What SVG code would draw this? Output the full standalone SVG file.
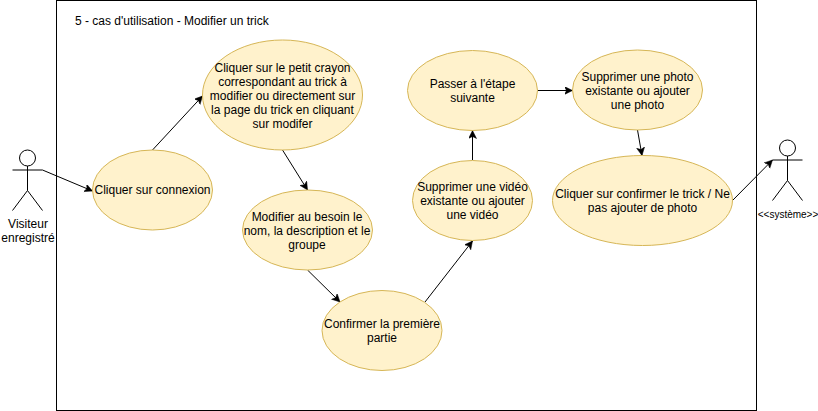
<svg xmlns="http://www.w3.org/2000/svg" width="818" height="411" viewBox="0 0 818 411">
<defs><marker id="a" markerWidth="10" markerHeight="10" refX="8" refY="4" orient="auto" markerUnits="userSpaceOnUse"><path d="M0 0L8 4L0 8L2 4Z" fill="#000" stroke="#000" stroke-width="0.500"/></marker></defs>
<style>
.n{fill:#fff2cc;stroke:#d6b656;stroke-width:1}
.t{font-family:"Liberation Sans",Arial,sans-serif;font-size:12px;fill:#000;text-anchor:middle}
.c{fill:none;stroke:#000;stroke-width:1;marker-end:url(#a)}
.s{fill:none;stroke:#000;stroke-width:1}
</style>
<rect width="818" height="411" fill="#fff"/>
<g id="frame"><rect x="56.500" y="0.500" width="700" height="410" fill="#fff" stroke="#000"/><text class="t" x="75" y="24.500" style="text-anchor:start">5 - cas d'utilisation - Modifier un trick</text></g>
<g id="connectors">
<path class="c" d="M42.500 170L92.500 191"/>
<path class="c" d="M152.500 150L202.500 96"/>
<path class="c" d="M282.500 150L307.500 190"/>
<path class="c" d="M307.500 270L340 302"/>
<path class="c" d="M425 302L472.500 241"/>
<path class="c" d="M472.500 160V130.500"/>
<path class="c" d="M537.500 90.500H572.500"/>
<path class="c" d="M637.500 130L642 155.500"/>
<path class="c" d="M732.500 200.500L772.500 160"/>
</g>
<g id="actor1"><circle class="s" cx="27.500" cy="158" r="8"/><path class="s" d="M27.500 166V190.500M12.500 170H42.500M27.500 190.500L12.500 210.500M27.500 190.500L42.500 210.500"/><text class="t" x="28" y="228">Visiteur</text><text class="t" x="28" y="242">enregistré</text></g>
<g id="actor2"><circle class="s" cx="787.500" cy="148" r="8"/><path class="s" d="M787.500 156V180.500M772.500 160H802.500M787.500 180.500L772.500 200.500M787.500 180.500L802.500 200.500"/><text class="t" x="788" y="218" style="font-size:10px">&lt;&lt;système&gt;&gt;</text></g>
<g id="n1"><ellipse class="n" cx="152.500" cy="190" rx="60" ry="40"/><text class="t" x="152.500" y="194">Cliquer sur connexion</text></g>
<g id="n2"><ellipse class="n" cx="282.500" cy="95" rx="80" ry="55"/><text class="t" x="282.500" y="72">Cliquer sur le petit crayon</text><text class="t" x="282.500" y="86">correspondant au trick à</text><text class="t" x="282.500" y="100">modifier ou directement sur</text><text class="t" x="282.500" y="114">la page du trick en cliquant</text><text class="t" x="282.500" y="128">sur modifer</text></g>
<g id="n3"><ellipse class="n" cx="307.500" cy="230" rx="65" ry="40"/><text class="t" x="307" y="221">Modifier au besoin le</text><text class="t" x="307" y="235">nom, la description et le</text><text class="t" x="307" y="249">groupe</text></g>
<g id="n4"><ellipse class="n" cx="382" cy="330.500" rx="60" ry="40"/><text class="t" x="382" y="328">Confirmer la première</text><text class="t" x="382" y="342">partie</text></g>
<g id="n5"><ellipse class="n" cx="472.500" cy="200.500" rx="60" ry="40"/><text class="t" x="472.500" y="191">Supprimer une vidéo</text><text class="t" x="472.500" y="205">existante ou ajouter</text><text class="t" x="472.500" y="219">une vidéo</text></g>
<g id="n6"><ellipse class="n" cx="472.500" cy="90.500" rx="65" ry="40"/><text class="t" x="472.500" y="88">Passer à l'étape</text><text class="t" x="472.500" y="102">suivante</text></g>
<g id="n7"><ellipse class="n" cx="637.500" cy="90" rx="65" ry="40"/><text class="t" x="637.500" y="81">Supprimer une photo</text><text class="t" x="637.500" y="95">existante ou ajouter</text><text class="t" x="637.500" y="109">une photo</text></g>
<g id="n8"><ellipse class="n" cx="642.500" cy="200.500" rx="90" ry="45"/><text class="t" x="642.500" y="198">Cliquer sur confirmer le trick / Ne</text><text class="t" x="642.500" y="212">pas ajouter de photo</text></g>
</svg>
